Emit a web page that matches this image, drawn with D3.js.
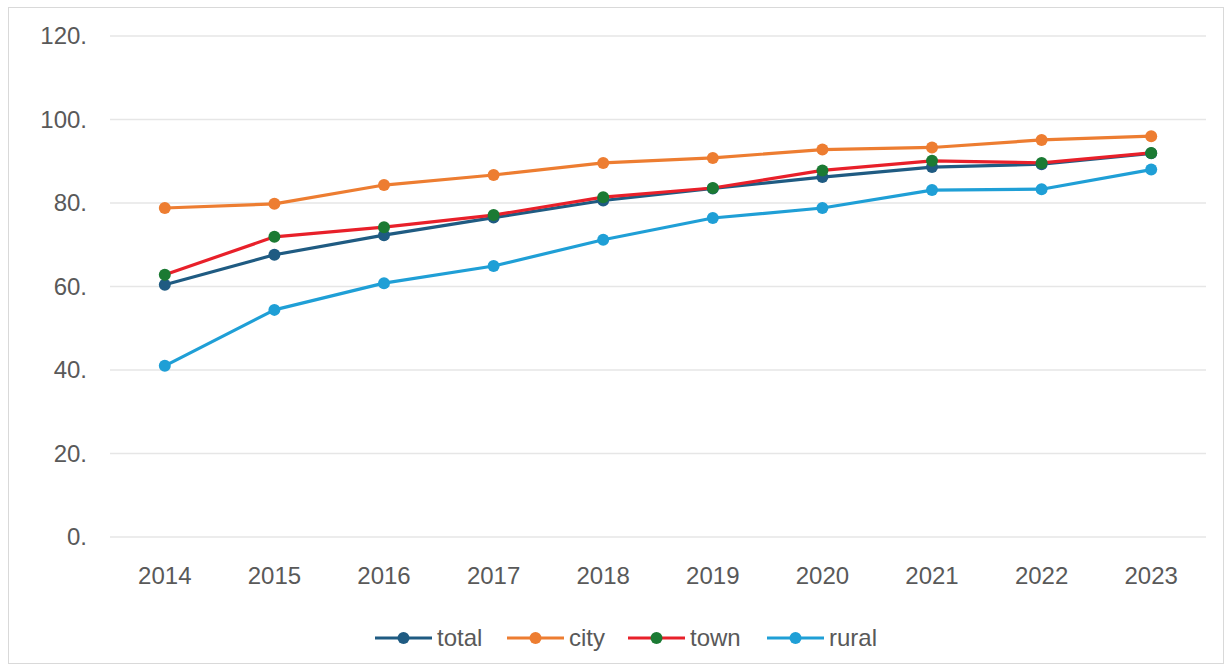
<!DOCTYPE html>
<html><head><meta charset="utf-8">
<script src="https://cdn.jsdelivr.net/npm/d3@7"></script>
<style>body{margin:0;background:#fff;}svg{display:block;font-family:"Liberation Sans",Arial,sans-serif;}</style>
</head><body><svg id="c" width="1231" height="670"></svg>
<script>
const years = ["2014","2015","2016","2017","2018","2019","2020","2021","2022","2023"];
const total = [60.4,67.6,72.3,76.5,80.6,83.5,86.2,88.6,89.3,91.9];
const city  = [78.8,79.8,84.3,86.7,89.6,90.8,92.8,93.3,95.1,96.0];
const town  = [62.8,71.9,74.2,77.1,81.4,83.6,87.8,90.1,89.6,92.0];
const rural = [41.0,54.4,60.8,64.9,71.2,76.4,78.8,83.1,83.3,88.0];
const yTicks = [0,20,40,60,80,100,120];
const seriesNames = ["total","city","town","rural"];

const series = [
  {name:"total", values:total, line:"#1f5b82", dot:"#1f5b82"},
  {name:"city", values:city, line:"#ed7d31", dot:"#ed7d31"},
  {name:"town", values:town, line:"#e8202a", dot:"#1b7a33"},
  {name:"rural", values:rural, line:"#1f9fd6", dot:"#1f9fd6"}
];

const svg = d3.select("#c");
svg.append("rect").attr("x",8.5).attr("y",7.5).attr("width",1215).attr("height",656)
  .attr("fill","#fff").attr("stroke","#d9d9d9");

const x = d3.scaleBand().domain(years).range([110,1206]);
const y = d3.scaleLinear().domain([0,120]).range([537,36]);

// grid
svg.append("g").selectAll("line").data(yTicks).join("line")
  .attr("x1",110).attr("x2",1206).attr("y1",d=>y(d)).attr("y2",d=>y(d))
  .attr("stroke","#e6e6e6").attr("stroke-width",1.5);

// y labels
svg.append("g").selectAll("text").data(yTicks).join("text")
  .attr("x",87).attr("y",d=>y(d)).attr("dy","0.35em").attr("text-anchor","end")
  .attr("font-size",24).attr("fill","#595959").text(d=>d+".");

// x labels
svg.append("g").selectAll("text").data(years).join("text")
  .attr("x",d=>x(d)+x.bandwidth()/2).attr("y",576).attr("dy","0.35em").attr("text-anchor","middle")
  .attr("font-size",24).attr("fill","#595959").text(d=>d);

const cx = d=>x(d)+x.bandwidth()/2;
const line = d3.line().x((v,i)=>cx(years[i])).y(v=>y(v));

series.forEach(s=>{
  svg.append("path").attr("d",line(s.values)).attr("fill","none")
    .attr("stroke",s.line).attr("stroke-width",3.2).attr("stroke-linejoin","round");
});
series.forEach(s=>{
  svg.append("g").selectAll("circle").data(s.values).join("circle")
    .attr("cx",(v,i)=>cx(years[i])).attr("cy",v=>y(v)).attr("r",6).attr("fill",s.dot);
});

// legend
const legX = [375,507,628,767];
const lg = svg.append("g");
series.forEach((s,i)=>{
  const g = lg.append("g").attr("transform",`translate(${legX[i]},638)`);
  g.append("line").attr("x1",0).attr("x2",57).attr("stroke",s.line).attr("stroke-width",3.2);
  g.append("circle").attr("cx",28.5).attr("r",6).attr("fill",s.dot);
  g.append("text").attr("x",62).attr("dy","0.35em").attr("font-size",24).attr("fill","#595959").text(seriesNames[i]);
});
</script></body></html>
